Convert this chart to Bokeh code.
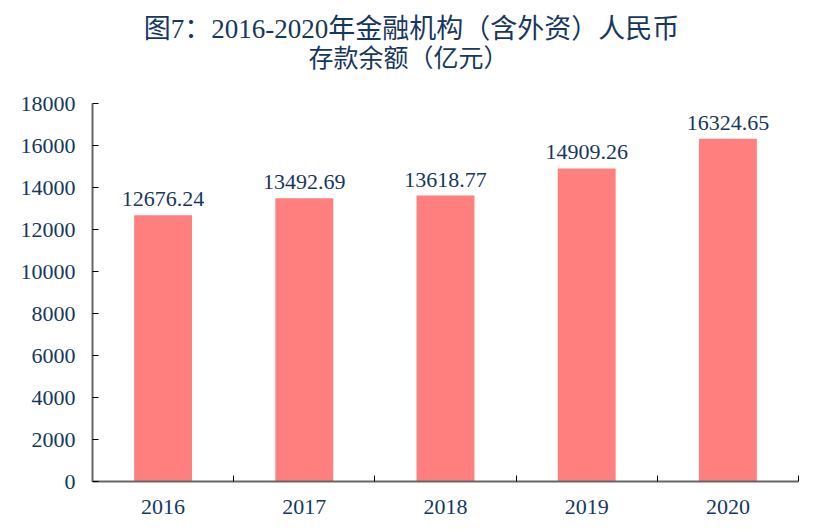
from bokeh.plotting import figure
from bokeh.models import ColumnDataSource, FixedTicker, Range1d, Label
from bokeh.core.properties import value
from bokeh.embed import file_html
from bokeh.resources import INLINE

years = ["2016", "2017", "2018", "2019", "2020"]
deposits = [12676.24, 13492.69, 13618.77, 14909.26, 16324.65]
y_ticks = [0, 2000, 4000, 6000, 8000, 10000, 12000, 14000, 16000, 18000]
title_line1 = "图7：2016-2020年金融机构（含外资）人民币"
title_line2 = "存款余额（亿元）"

TEXT = "#17375E"
FONT = "'Liberation Serif', 'Noto Sans CJK SC'"

W, H = 808, 522
LEFT, RIGHT, BOTTOM = 92, 10, 41
FRAME_H = H - BOTTOM          # frame reaches the top of the canvas
AXIS_H = 378                  # pixel height of the 0..18000 axis
y_top = y_ticks[-1] * FRAME_H / AXIS_H

centers = [i + 0.5 for i in range(len(years))]
bounds = [i for i in range(len(years) + 1)]

src = ColumnDataSource(dict(
    x=centers, top=deposits, label=[f"{v:.2f}" for v in deposits]))

p = figure(width=W, height=H, output_backend="svg", toolbar_location=None,
           title=None,
           x_range=Range1d(0, len(years)), y_range=Range1d(y_ticks[0], y_top),
           min_border_left=LEFT, min_border_right=RIGHT, min_border_top=0,
           min_border_bottom=BOTTOM)

# title lines (screen units: origin at frame bottom-left)
p.add_layout(Label(text=title_line1, x=411 - LEFT, y=FRAME_H - 28,
                   x_units="screen", y_units="screen",
                   text_align="center", text_baseline="middle",
                   text_font_size="27px", text_font=FONT, text_color=TEXT))
p.add_layout(Label(text=title_line2, x=408 - LEFT, y=FRAME_H - 58,
                   x_units="screen", y_units="screen",
                   text_align="center", text_baseline="middle",
                   text_font_size="25px", text_font=FONT, text_color=TEXT))

p.vbar(x="x", top="top", bottom=0, width=0.41, source=src,
       fill_color="#FF7F7F", line_color=None)
p.text(x="x", y="top", text="label", source=src, text_align="center",
       text_baseline="bottom", y_offset=-9, text_font=value("Liberation Serif"),
       text_font_size="22px", text_color=TEXT)

p.xgrid.visible = False
p.ygrid.visible = False
p.outline_line_color = None

xa = p.xaxis[0]
xa.ticker = FixedTicker(ticks=centers, minor_ticks=bounds)
xa.major_label_overrides = {c: y for c, y in zip(centers, years)}
xa.major_tick_in = 0
xa.major_tick_out = 0
xa.minor_tick_in = 6
xa.minor_tick_out = 0
xa.minor_tick_line_color = "#000000"
xa.axis_line_color = "#666666"
xa.axis_line_width = 2
xa.major_label_text_font = "Liberation Serif"
xa.major_label_text_font_size = "22px"
xa.major_label_text_color = TEXT
xa.major_label_standoff = 18

ya = p.yaxis[0]
ya.ticker = FixedTicker(ticks=y_ticks, minor_ticks=[])
ya.bounds = (y_ticks[0], y_ticks[-1])
ya.major_tick_in = 6
ya.major_tick_out = 0
ya.major_tick_line_color = "#000000"
ya.axis_line_color = "#666666"
ya.axis_line_width = 2
ya.major_label_text_font = "Liberation Serif"
ya.major_label_text_font_size = "22px"
ya.major_label_text_color = TEXT
ya.major_label_standoff = 17

open("out.html", "w").write(file_html(p, INLINE))
